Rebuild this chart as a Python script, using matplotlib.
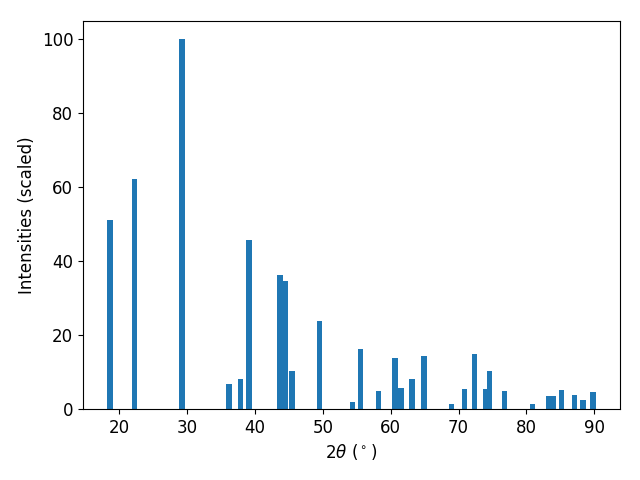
import matplotlib
matplotlib.use("Agg")
import matplotlib.pyplot as plt

two_theta = [18.67, 22.29, 29.23, 36.17, 37.87, 39.13, 43.70, 44.44, 45.48,
             49.54, 54.34, 55.52, 58.18, 60.61, 61.50, 63.12, 64.90, 68.96,
             70.88, 72.36, 74.00, 74.54, 76.79, 80.85, 83.31, 83.99, 85.20,
             87.05, 88.30, 89.78]
intensity = [51.2, 62.3, 100.0, 6.8, 8.1, 45.8, 36.3, 34.7, 10.3,
             23.8, 1.9, 16.3, 4.9, 13.8, 5.7, 8.1, 14.4, 1.4,
             5.4, 14.9, 5.4, 10.3, 4.9, 1.4, 3.5, 3.5, 5.1,
             3.8, 2.4, 4.6]

plt.rcParams['font.size'] = 12
fig, ax = plt.subplots(figsize=(6.4, 4.8), dpi=100)
ax.bar(two_theta, intensity, width=0.8)
ax.set_xlabel(r'2$\theta$ ($^\circ$)')
ax.set_ylabel('Intensities (scaled)')
fig.subplots_adjust(left=0.1297, right=0.9687, top=0.9562, bottom=0.148)
fig.savefig("out.png")
